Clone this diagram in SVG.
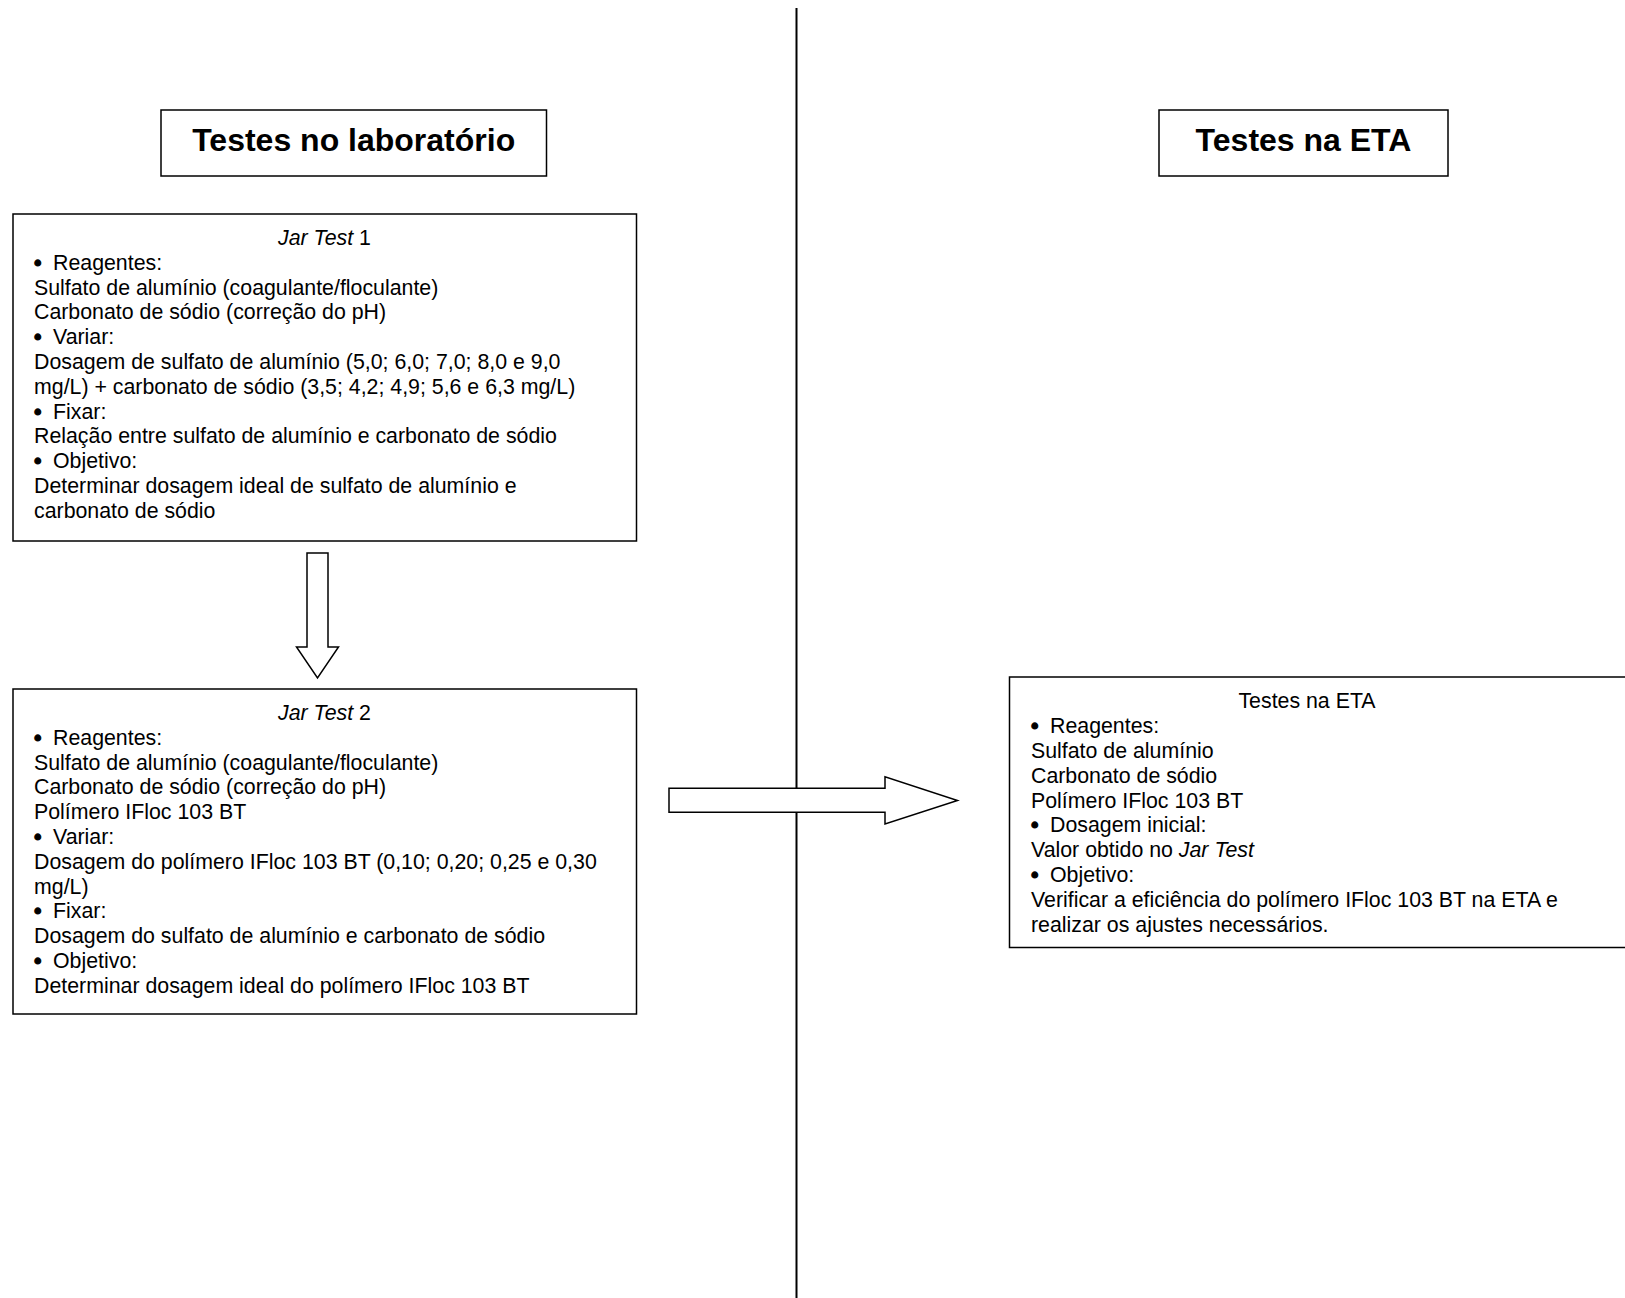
<svg xmlns="http://www.w3.org/2000/svg" width="1625" height="1298" viewBox="0 0 1625 1298">
<style>
.box{fill:#fff;stroke:#000;stroke-width:1.5}
.arr{fill:#fff;stroke:#000;stroke-width:1.5;stroke-linejoin:miter}
.t{font-family:"Liberation Sans",Arial,sans-serif;font-size:21.33px;fill:#000}
.b{stroke:#000;stroke-width:1.2}
.h{font-family:"Liberation Sans",Arial,sans-serif;font-size:32px;font-weight:bold;fill:#000}
.c{text-anchor:middle}
.i{font-style:italic}
</style>
<rect x="0" y="0" width="1625" height="1298" fill="#fff"/>
<g id="divider">
<line x1="796.5" y1="8" x2="796.5" y2="1298" stroke="#000" stroke-width="2"/>
</g>
<g id="title-lab">
<rect class="box" x="161" y="110" width="385.5" height="66"/>
<text class="h c" x="353.7" y="151">Testes no laboratório</text>
</g>
<g id="title-eta">
<rect class="box" x="1159" y="110" width="289" height="66"/>
<text class="h c" x="1303.5" y="151">Testes na ETA</text>
</g>
<g id="jar1">
<rect class="box" x="13" y="214" width="623.5" height="327"/>
<text class="t c" x="324.5" y="245"><tspan class="i">Jar Test</tspan> 1</text>
<text class="t" x="34" y="269.8"><tspan class="b">•</tspan><tspan x="53">Reagentes:</tspan></text>
<text class="t" x="34" y="294.6">Sulfato de alumínio (coagulante/floculante)</text>
<text class="t" x="34" y="319.4">Carbonato de sódio (correção do pH)</text>
<text class="t" x="34" y="344.2"><tspan class="b">•</tspan><tspan x="53">Variar:</tspan></text>
<text class="t" x="34" y="369">Dosagem de sulfato de alumínio (5,0; 6,0; 7,0; 8,0 e 9,0</text>
<text class="t" x="34" y="393.8">mg/L) + carbonato de sódio (3,5; 4,2; 4,9; 5,6 e 6,3 mg/L)</text>
<text class="t" x="34" y="418.6"><tspan class="b">•</tspan><tspan x="53">Fixar:</tspan></text>
<text class="t" x="34" y="443.4">Relação entre sulfato de alumínio e carbonato de sódio</text>
<text class="t" x="34" y="468.2"><tspan class="b">•</tspan><tspan x="53">Objetivo:</tspan></text>
<text class="t" x="34" y="493">Determinar dosagem ideal de sulfato de alumínio e</text>
<text class="t" x="34" y="517.8">carbonato de sódio</text>
</g>
<g id="jar2">
<rect class="box" x="13" y="689" width="623.5" height="325"/>
<text class="t c" x="324.5" y="720"><tspan class="i">Jar Test</tspan> 2</text>
<text class="t" x="34" y="744.8"><tspan class="b">•</tspan><tspan x="53">Reagentes:</tspan></text>
<text class="t" x="34" y="769.6">Sulfato de alumínio (coagulante/floculante)</text>
<text class="t" x="34" y="794.4">Carbonato de sódio (correção do pH)</text>
<text class="t" x="34" y="819.2">Polímero IFloc 103 BT</text>
<text class="t" x="34" y="844"><tspan class="b">•</tspan><tspan x="53">Variar:</tspan></text>
<text class="t" x="34" y="868.8">Dosagem do polímero IFloc 103 BT (0,10; 0,20; 0,25 e 0,30</text>
<text class="t" x="34" y="893.6">mg/L)</text>
<text class="t" x="34" y="918.4"><tspan class="b">•</tspan><tspan x="53">Fixar:</tspan></text>
<text class="t" x="34" y="943.2">Dosagem do sulfato de alumínio e carbonato de sódio</text>
<text class="t" x="34" y="968"><tspan class="b">•</tspan><tspan x="53">Objetivo:</tspan></text>
<text class="t" x="34" y="992.8">Determinar dosagem ideal do polímero IFloc 103 BT</text>
</g>
<g id="eta">
<rect class="box" x="1009.5" y="677" width="640" height="270.5"/>
<text class="t c" x="1307" y="708.3">Testes na ETA</text>
<text class="t" x="1031" y="733.1"><tspan class="b">•</tspan><tspan x="1050">Reagentes:</tspan></text>
<text class="t" x="1031" y="757.9">Sulfato de alumínio</text>
<text class="t" x="1031" y="782.7">Carbonato de sódio</text>
<text class="t" x="1031" y="807.5">Polímero IFloc 103 BT</text>
<text class="t" x="1031" y="832.3"><tspan class="b">•</tspan><tspan x="1050">Dosagem inicial:</tspan></text>
<text class="t" x="1031" y="857.1">Valor obtido no <tspan class="i">Jar Test</tspan></text>
<text class="t" x="1031" y="881.9"><tspan class="b">•</tspan><tspan x="1050">Objetivo:</tspan></text>
<text class="t" x="1031" y="906.7">Verificar a eficiência do polímero IFloc 103 BT na ETA e</text>
<text class="t" x="1031" y="931.5">realizar os ajustes necessários.</text>
</g>
<g id="connectors">
<polygon class="arr" points="307,553 328,553 328,647 338.5,647 317.5,678 296.5,647 307,647"/>
<polygon class="arr" points="669,788.3 885,788.3 885,776.7 957.5,800.5 885,824 885,812.3 669,812.3"/>
</g>
</svg>
